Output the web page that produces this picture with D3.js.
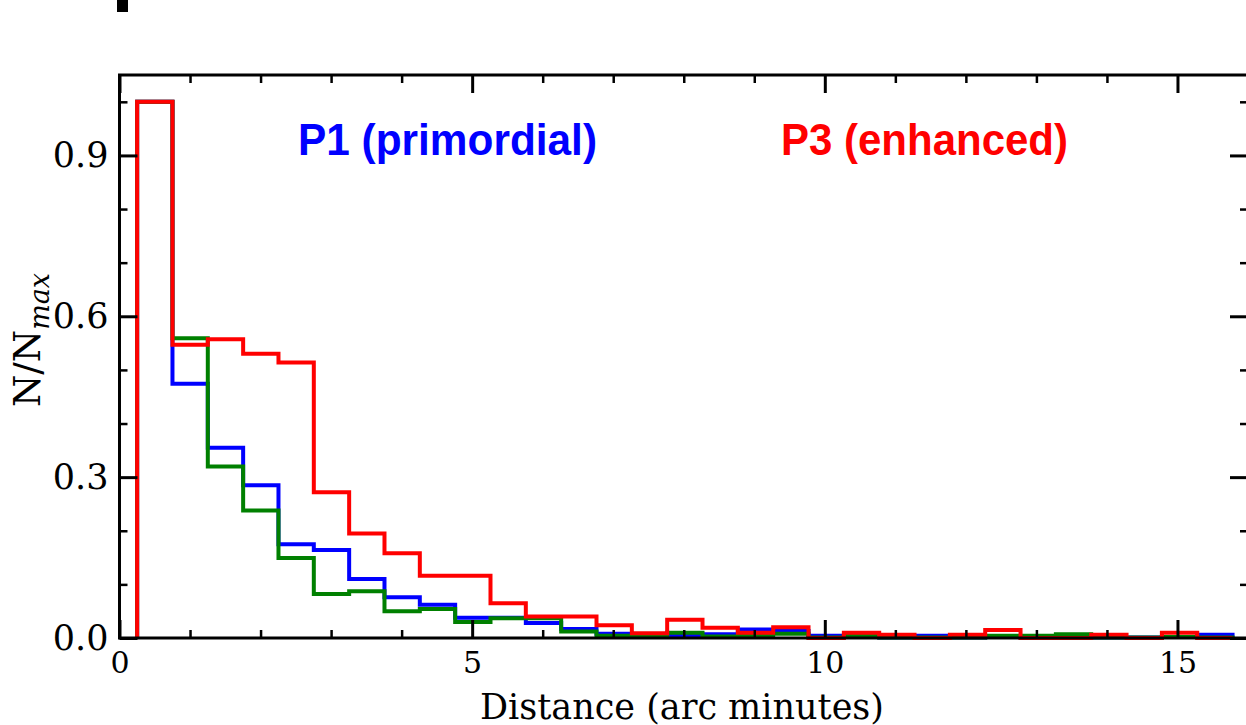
<!DOCTYPE html>
<html>
<head>
<meta charset="utf-8">
<script src="https://cdn.jsdelivr.net/npm/d3@7"></script>
<style>
  body { margin: 0; background: #fff; }
  svg { display: block; }
</style>
</head>
<body>
<div id="chart"></div>
<script>
// histogram bins (arc minutes)
const binStart = 0.25;
const binWidth = 0.501;

// N/N_max per bin (first bin is the max for every population)
const p1Blue = [1.0, 0.474, 0.355, 0.285, 0.175, 0.164, 0.110, 0.076, 0.062, 0.038, 0.038, 0.028, 0.017, 0.008, 0.004, 0.004,
    0.007, 0.016, 0.013, 0.004, 0.002, 0.001, 0.004, 0.001, 0.002, 0.001, 0.001, 0.001, 0.001, 0.002, 0.006];
const p2Green = [1.0, 0.559, 0.320, 0.238, 0.149, 0.082, 0.087, 0.050, 0.054, 0.030, 0.037, 0.037, 0.012, 0.004, 0.004, 0.010,
    0.003, 0.004, 0.008, 0.001, 0.004, 0.001, 0.001, 0.001, 0.004, 0.004, 0.007, 0.001, 0.001, 0.002, 0.001];
const p3Red = [1.0, 0.547, 0.557, 0.530, 0.514, 0.272, 0.195, 0.158, 0.116, 0.116, 0.065, 0.040, 0.040, 0.024, 0.009, 0.034,
    0.019, 0.010, 0.020, 0, 0.010, 0.006, 0, 0.006, 0.015, 0, 0, 0.006, 0, 0.010, 0];

const xMajorTicks = [0, 5, 10, 15];
const xMinorTicks = [1, 2, 3, 4, 6, 7, 8, 9, 11, 12, 13, 14, 16];
const yMajorTicks = [0, 0.3, 0.6, 0.9];
const yMinorTicks = [0.1, 0.2, 0.4, 0.5, 0.7, 0.8, 1.0];

const series = [
    { name: 'P1', values: p1Blue, color: '#0000ff' },
    { name: 'P2', values: p2Green, color: '#008000' },
    { name: 'P3', values: p3Red, color: '#ff0000' }
];

const W = 1246, H = 725;
const plot = { left: 119.5, right: 1248, top: 75, bottom: 638 };

const svg = d3.select('#chart').append('svg')
    .attr('width', W)
    .attr('height', H);

const x = d3.scaleLinear().domain([0, 16]).range([plot.left, plot.right]);
const y = d3.scaleLinear().domain([0, 1.05]).range([plot.bottom, plot.top]);

// stray mark from the panel above
svg.append('rect')
    .attr('x', 117).attr('y', 0)
    .attr('width', 11).attr('height', 12)
    .attr('fill', '#000');

// step outlines
const line = d3.line().x(d => x(d[0])).y(d => y(d[1]));

function stepPoints(values) {
    const pts = [[binStart, 0]];
    values.forEach((v, i) => {
        pts.push([binStart + i * binWidth, v]);
        pts.push([binStart + (i + 1) * binWidth, v]);
    });
    pts.push([binStart + values.length * binWidth, 0]);
    return pts;
}

svg.append('g')
    .selectAll('path')
    .data(series)
    .join('path')
    .attr('d', d => line(stepPoints(d.values)))
    .attr('fill', 'none')
    .attr('stroke', d => d.color)
    .attr('stroke-width', 4)
    .attr('stroke-linejoin', 'miter');

// axes (inward ticks on all four sides)
const tickFont = 'DejaVu Serif';

function styleAxis(g, w, size) {
    g.select('.domain').remove();
    g.selectAll('.tick line').attr('stroke', '#000').attr('stroke-width', w);
    g.selectAll('.tick text')
        .attr('fill', '#000')
        .style('font-family', tickFont)
        .style('font-size', size || '30px');
}

svg.append('g')
    .attr('transform', `translate(0,${plot.bottom})`)
    .call(d3.axisBottom(x).tickValues(xMajorTicks).tickSize(-18).tickPadding(14).tickFormat(d3.format('d')))
    .call(g => styleAxis(g, 3));
svg.append('g')
    .attr('transform', `translate(0,${plot.bottom})`)
    .call(d3.axisBottom(x).tickValues(xMinorTicks).tickSize(-8).tickFormat(''))
    .call(g => styleAxis(g, 2.5));
svg.append('g')
    .attr('transform', `translate(0,${plot.top})`)
    .call(d3.axisTop(x).tickValues(xMajorTicks).tickSize(-18).tickFormat(''))
    .call(g => styleAxis(g, 3));
svg.append('g')
    .attr('transform', `translate(0,${plot.top})`)
    .call(d3.axisTop(x).tickValues(xMinorTicks).tickSize(-8).tickFormat(''))
    .call(g => styleAxis(g, 2.5));

svg.append('g')
    .attr('transform', `translate(${plot.left},0)`)
    .call(d3.axisLeft(y).tickValues(yMajorTicks).tickSize(-18).tickPadding(11).tickFormat(d3.format('.1f')))
    .call(g => styleAxis(g, 3, '35px'));
svg.append('g')
    .attr('transform', `translate(${plot.left},0)`)
    .call(d3.axisLeft(y).tickValues(yMinorTicks).tickSize(-8).tickFormat(''))
    .call(g => styleAxis(g, 2.5));
svg.append('g')
    .attr('transform', `translate(${plot.right},0)`)
    .call(d3.axisRight(y).tickValues(yMajorTicks).tickSize(-18).tickFormat(''))
    .call(g => styleAxis(g, 3));
svg.append('g')
    .attr('transform', `translate(${plot.right},0)`)
    .call(d3.axisRight(y).tickValues(yMinorTicks).tickSize(-8).tickFormat(''))
    .call(g => styleAxis(g, 2.5));

// frame
svg.append('rect')
    .attr('x', plot.left).attr('y', plot.top)
    .attr('width', plot.right - plot.left)
    .attr('height', plot.bottom - plot.top)
    .attr('fill', 'none')
    .attr('stroke', '#000')
    .attr('stroke-width', 3);

// axis titles
svg.append('text')
    .attr('x', 682).attr('y', 719)
    .attr('text-anchor', 'middle')
    .style('font-family', tickFont)
    .style('font-size', '35px')
    .text('Distance (arc minutes)');

const yLab = svg.append('text')
    .attr('transform', 'translate(40,340) rotate(-90)')
    .attr('text-anchor', 'middle')
    .style('font-family', tickFont)
    .style('font-size', '37px');
yLab.append('tspan').text('N/N');
yLab.append('tspan')
    .attr('dy', 9)
    .style('font-style', 'italic')
    .style('font-size', '27px')
    .text('max');

// population labels
svg.append('text')
    .attr('x', 298).attr('y', 155)
    .attr('textLength', 299)
    .attr('lengthAdjust', 'spacingAndGlyphs')
    .attr('fill', '#0000ff')
    .style('font-family', 'Liberation Sans, Arial, sans-serif')
    .style('font-weight', 'bold')
    .style('font-size', '44px')
    .text('P1 (primordial)');

svg.append('text')
    .attr('x', 781).attr('y', 155)
    .attr('textLength', 287)
    .attr('lengthAdjust', 'spacingAndGlyphs')
    .attr('fill', '#ff0000')
    .style('font-family', 'Liberation Sans, Arial, sans-serif')
    .style('font-weight', 'bold')
    .style('font-size', '44px')
    .text('P3 (enhanced)');
</script>
</body>
</html>
